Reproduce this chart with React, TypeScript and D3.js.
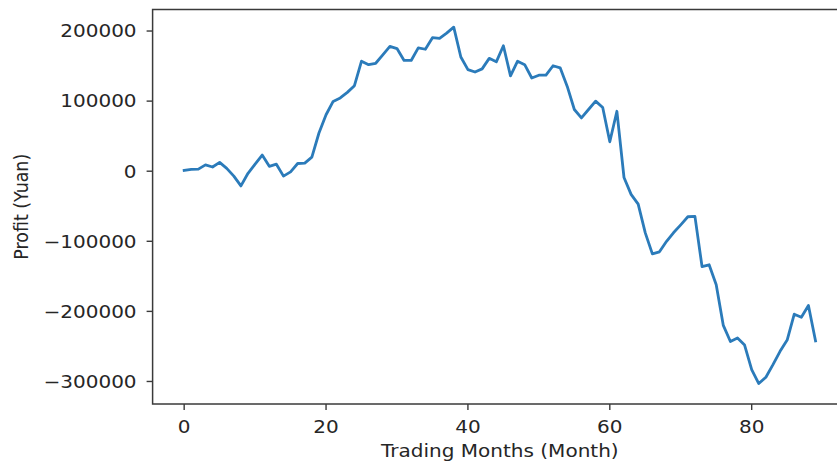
import React from "react";
import * as d3 from "d3";

const months: number[] = Array.from({ length: 90 }, (_, i) => i);
const profit: number[] = [
  1000, 2500, 3000, 9000, 6000, 12500, 4000, -7000, -21000, -3000,
  10000, 23000, 7000, 10000, -7000, -1000, 11000, 11500, 20000, 54500,
  80500, 99500, 104500, 112500, 122000, 157000, 152000, 154000, 166000, 178000,
  175000, 158000, 158000, 176000, 174000, 190500, 189500, 197000, 205500, 163000,
  145000, 141500, 146000, 161000, 156000, 179000, 136000, 157000, 152000, 133000,
  137000, 137000, 150500, 147500, 121000, 88000, 76000, 88000, 100000, 91000,
  42000, 85500, -9000, -33000, -47000, -88000, -118000, -115000, -100000, -87500,
  -76500, -65000, -64500, -136000, -133500, -162000, -220000, -243000, -238000, -248000,
  -283000, -303000, -294000, -276000, -257000, -241000, -204000, -208500, -191500, -242000,
];
const xTicks: number[] = [0, 20, 40, 60, 80];
const yTicks: number[] = [-300000, -200000, -100000, 0, 100000, 200000];
const xLabel = "Trading Months (Month)";
const yLabel = "Profit (Yuan)";

const W = 837;
const H = 464;
const left = 152.6;
const right = 847.1;
const top = 9.5;
const bottom = 404;
const FS = 17.4;
const SX = 1.15;
const TEXT = "#262626";
const FONT = "'DejaVu Sans', sans-serif";

const fmt = (v: number) => (v < 0 ? "\u2212" + Math.abs(v) : String(v));

export default function App() {
  const x = d3.scaleLinear().domain([-4.45, 93.45]).range([left, right]);
  const y = d3.scaleLinear().domain([-332143, 230714]).range([bottom, top]);
  const line = d3
    .line<number>()
    .x((_, i) => x(months[i]))
    .y((d) => y(d));
  const path = line(profit) || "";

  return (
    <svg
      width={W}
      height={H}
      style={{ position: "absolute", left: 0, top: 0, background: "#fff" }}
      fontFamily={FONT}
    >
      <rect x={0} y={0} width={W} height={H} fill="#fff" />
      <path
        d={path}
        fill="none"
        stroke="#2b7bba"
        strokeWidth={2.8}
        strokeLinejoin="round"
        strokeLinecap="square"
      />
      {/* spines */}
      <rect
        x={left}
        y={top}
        width={right - left}
        height={bottom - top}
        fill="none"
        stroke="#3a3a3a"
        strokeWidth={1.5}
      />
      {/* y ticks */}
      {yTicks.map((t) => (
        <g key={"y" + t}>
          <line x1={left - 6} x2={left} y1={y(t)} y2={y(t)} stroke="#3a3a3a" strokeWidth={1.4} />
          <text
            transform={`translate(${left - 16},${y(t) + 6.3}) scale(${SX},1)`}
            textAnchor="end"
            fontSize={FS}
            fill={TEXT}
          >
            {fmt(t)}
          </text>
        </g>
      ))}
      {/* x ticks */}
      {xTicks.map((t) => (
        <g key={"x" + t}>
          <line x1={x(t)} x2={x(t)} y1={bottom} y2={bottom + 6} stroke="#3a3a3a" strokeWidth={1.4} />
          <text
            transform={`translate(${x(t)},${432.5}) scale(${SX},1)`}
            textAnchor="middle"
            fontSize={FS}
            fill={TEXT}
          >
            {fmt(t)}
          </text>
        </g>
      ))}
      <text
        transform={`translate(${(left + right) / 2},${457}) scale(${SX},1)`}
        textAnchor="middle"
        fontSize={FS}
        fill={TEXT}
      >
        {xLabel}
      </text>
      <text
        transform={`translate(${28},${(top + bottom) / 2}) scale(${SX},1) rotate(-90)`}
        textAnchor="middle"
        fontSize={FS}
        fill={TEXT}
      >
        {yLabel}
      </text>
    </svg>
  );
}
